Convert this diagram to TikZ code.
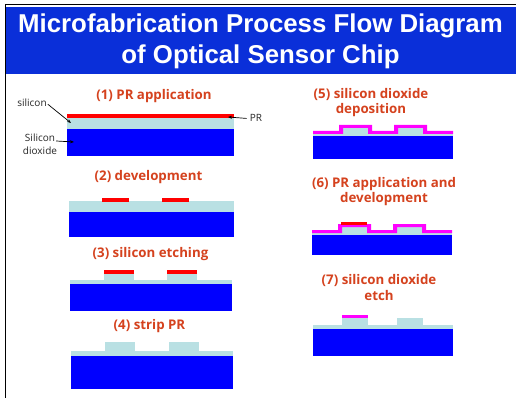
\documentclass[tikz,border=0pt]{standalone}
\usepackage{fontspec}
\setmainfont{Liberation Sans}
\newfontfamily\stepfont{Open Sans}
\usetikzlibrary{arrows.meta}
\definecolor{headerblue}{HTML}{0A2FD9}
\definecolor{silicon}{HTML}{B9E0E3}
\definecolor{steporange}{HTML}{D5421E}
\definecolor{puremagenta}{HTML}{FF00FF}
\definecolor{pureblue}{HTML}{0000FF}
\definecolor{purered}{HTML}{FF0000}
\tikzset{
  sio/.style={fill=pureblue},
  si/.style={fill=silicon},
  pr/.style={fill=purered},
  mg/.style={fill=puremagenta},
  steptitle/.style={inner sep=0pt,text=steporange,align=center,font=\stepfont\bfseries\fontsize{13.3}{15.3}\selectfont},
  plainlabel/.style={inner sep=0pt,align=center,text=black!85,font=\stepfont\fontsize{10}{13}\selectfont},
  pointer/.style={draw=black,line width=0.7pt,-{Stealth[length=4pt,width=3pt]}}
}
\begin{document}
\begin{tikzpicture}[x=1pt,y=-1pt]
\useasboundingbox (0,0) rectangle (516,398);
% frame and header
\fill[white] (0,0) rectangle (516,398);
\draw[black,line width=1pt] (516,4.5) -- (5.5,4.5) -- (5.5,398);
\fill[headerblue] (5.5,7) rectangle (516,74);
\node[inner sep=0pt,text=white,align=center,font=\bfseries\fontsize{25.8}{30.5}\selectfont] (title) at (260.5,41.5) {Microfabrication Process Flow Diagram\\of Optical Sensor Chip};
% (1)
\fill[sio] (67,129) rectangle (234,156);
\fill[si] (67,118) rectangle (234,129);
\fill[pr] (67,114) rectangle (234,118);
\node[steptitle,anchor=base] (s1) at (154,100) {(1) PR application};
\node[plainlabel,anchor=base] (lsi) at (32,107) {silicon};
\node[plainlabel] (lsio) at (40,144) {Silicon\\dioxide};
\node[plainlabel,anchor=base] (lpr) at (256,122) {PR};
\coordinate (psi) at (71,123);
\coordinate (psio) at (74,142);
\coordinate (ppr) at (228,117);
\draw[pointer] (lsi.east) ++(1,1) -- (psi);
\draw[pointer] (lsio.east) ++(-1,-3) -- (psio);
\draw[pointer] (lpr.west) ++(-3,0) -- (ppr);
% (2)
\fill[sio] (69,212) rectangle (234,237);
\fill[si] (69,201) rectangle (234,212);
\fill[pr] (102,198) rectangle (129,202);
\fill[pr] (162,198) rectangle (189,202);
\node[steptitle,anchor=base] (s2) at (148.5,180) {(2) development};
% (3)
\fill[sio] (70,284) rectangle (232,311);
\fill[si] (70,280) rectangle (232,284);
\fill[si] (104,274) rectangle (134,280);
\fill[si] (167,274) rectangle (197,280);
\fill[pr] (104,270) rectangle (134,274);
\fill[pr] (167,270) rectangle (197,274);
\node[steptitle,anchor=base] (s3) at (150.5,257) {(3) silicon etching};
% (4)
\fill[sio] (71,356) rectangle (233,389);
\fill[si] (71,351) rectangle (233,356);
\fill[si] (105,342) rectangle (135,351);
\fill[si] (169,342) rectangle (199,351);
\node[steptitle,anchor=base] (s4) at (149.5,329) {(4) strip PR};
% (5)
\fill[sio] (313,136) rectangle (453,159);
\fill[si] (313,134) rectangle (453,136);
\fill[si] (343,128) rectangle (368,134);
\fill[si] (398,128) rectangle (423,134);
\fill[mg] (313,131) -- (339,131) -- (339,125) -- (372,125) -- (372,131) -- (394,131) -- (394,125) -- (427,125) -- (427,131) -- (453,131) -- (453,134) -- (423,134) -- (423,128) -- (398,128) -- (398,134) -- (368,134) -- (368,128) -- (343,128) -- (343,134) -- (313,134) -- cycle;
\node[steptitle] (s5) at (371,102.5) {(5) silicon dioxide\\deposition};
% (6)
\fill[sio] (312,235) rectangle (452,255);
\fill[si] (312,233) rectangle (452,235);
\fill[si] (342,227) rectangle (367,233);
\fill[si] (397,227) rectangle (422,233);
\fill[mg] (312,230) -- (338,230) -- (338,224) -- (371,224) -- (371,230) -- (393,230) -- (393,224) -- (426,224) -- (426,230) -- (452,230) -- (452,233) -- (422,233) -- (422,227) -- (397,227) -- (397,233) -- (367,233) -- (367,227) -- (342,227) -- (342,233) -- (312,233) -- cycle;
\fill[pr] (341,222) rectangle (367,225);
\node[steptitle] (s6) at (384,191.5) {(6) PR application and\\development};
% (7)
\fill[sio] (313,329) rectangle (453,356);
\fill[si] (313,325) rectangle (453,329);
\fill[si] (342,318) rectangle (368,325);
\fill[si] (397,318) rectangle (423,325);
\fill[mg] (342,315) rectangle (368,318);
\node[steptitle] (s7) at (379,287.5) {(7) silicon dioxide\\etch};
\end{tikzpicture}
\end{document}
